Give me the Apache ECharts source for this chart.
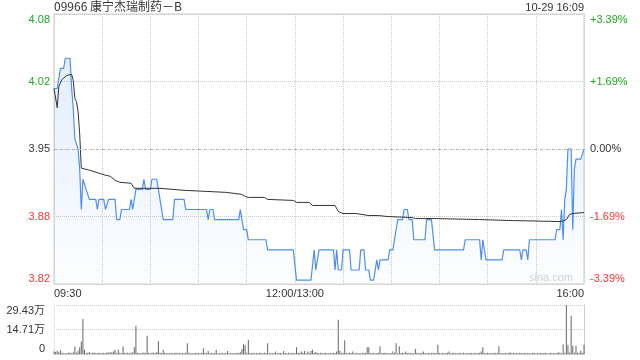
<!DOCTYPE html>
<html><head><meta charset="utf-8">
<script src="https://cdn.jsdelivr.net/npm/echarts@6/dist/echarts.min.js"></script>
<style>html,body{margin:0;padding:0;background:#fff}#c{width:640px;height:360px}</style>
</head><body><div id="c"></div>
<script>
const chartTitle = '09966 康宁杰瑞制药－B';
const dateText = '10-29 16:09';
const prevClose = 3.95;
const rangePct = 0.0339;
const leftTickLabels = ['3.82', '3.88', '3.95', '4.02', '4.08'];
const rightTickLabels = ['-3.39%', '-1.69%', '0.00%', '+1.69%', '+3.39%'];
const timeLabels = {0: '09:30', 150: '12:00/13:00', 330: '16:00'};
const volTickLabels = ['0', '14.71万', '29.43万'];
const volMax = 29.43;

// minute index (0 = 09:30, 150 = 12:00/13:00, 330 = 16:00) and price
const priceMinutes = [0,2,4,6,7,10,11,12,13,14,15,16,17,18,19,20,21,22,26,27,28,31,32,33,34,38,39,41,42,47,48,49,51,55,56,57,60,61,64,65,66,68,74,75,81,82,95,96,97,99,100,115,116,117,118,120,121,132,133,149,151,160,162,163,165,174,175,176,177,179,180,184,185,190,191,193,194,196,197,199,201,202,203,208,209,211,212,213,214,217,218,220,221,223,224,231,232,235,237,255,256,265,266,267,268,269,279,280,290,291,292,294,295,296,312,313,315,316,317,318,319,320,322,323,324,325,328,330];
const priceValues = [4.01,4.01,4.03,4.03,4.04,4.04,4.01,3.99,3.96,3.96,3.95,3.93,3.89,3.92,3.92,3.91,3.91,3.90,3.90,3.89,3.90,3.90,3.89,3.89,3.90,3.90,3.88,3.88,3.89,3.89,3.90,3.89,3.91,3.91,3.92,3.91,3.91,3.92,3.92,3.91,3.91,3.88,3.88,3.90,3.90,3.89,3.89,3.88,3.89,3.89,3.88,3.88,3.89,3.89,3.87,3.87,3.86,3.86,3.85,3.85,3.82,3.82,3.85,3.83,3.85,3.85,3.83,3.85,3.83,3.83,3.85,3.85,3.83,3.83,3.85,3.85,3.83,3.83,3.82,3.82,3.84,3.83,3.84,3.84,3.85,3.85,3.86,3.86,3.88,3.88,3.89,3.89,3.88,3.88,3.86,3.86,3.88,3.88,3.85,3.85,3.86,3.86,3.84,3.86,3.86,3.84,3.84,3.85,3.85,3.84,3.85,3.85,3.84,3.86,3.86,3.87,3.87,3.89,3.86,3.90,3.91,3.95,3.95,3.87,3.93,3.94,3.94,3.95];

const avgMinutes = [0,2,3,5,8,11,12,13,14,15,16,17,22,28,32,35,38,41,48,50,66,81,82,94,95,107,108,117,119,121,131,133,149,151,159,161,175,177,180,188,196,202,203,208,209,223,225,238,239,265,266,286,287,316,319,321,323,330];
const avgValues = [4.010,3.991,4.012,4.019,4.023,4.024,4.018,4.000,3.997,3.987,3.965,3.931,3.929,3.926,3.924,3.923,3.919,3.917,3.916,3.911,3.911,3.909,3.908,3.908,3.907,3.907,3.906,3.905,3.903,3.902,3.902,3.900,3.899,3.897,3.897,3.894,3.894,3.888,3.886,3.886,3.884,3.884,3.883,3.883,3.882,3.882,3.881,3.881,3.880,3.880,3.879,3.879,3.878,3.878,3.880,3.885,3.886,3.887];

// volume per minute (万)
const volumes = [
1.5,1.2,2.0,1.0,2.2,0.8,0.5,0.6,0.4,0.7,0.9,0.5,1.0,4.5,0.8,2.0,4.0,7.5,21.0,2.5,0.6,0.8,1.2,0.5,0.7,0.9,0.4,0.6,0.8,0.5,
0.6,0.8,0.5,1.0,0.7,1.2,0.9,1.5,2.5,0.6,2.5,0.8,0.5,4.5,0.7,0.6,0.9,0.5,0.8,1.0,4.0,17.0,0.8,0.6,0.5,0.7,0.9,0.6,11.0,0.8,
0.5,0.7,0.9,0.6,1.2,7.8,0.8,0.6,2.5,0.7,0.5,0.6,0.4,0.8,0.5,0.6,0.9,0.5,0.7,0.4,0.6,0.5,0.8,6.5,0.7,0.5,0.6,0.4,0.7,0.5,
0.6,0.5,0.8,3.5,0.7,0.6,1.8,0.5,0.7,0.4,0.6,2.5,0.5,0.6,0.4,0.7,0.5,0.6,1.8,0.5,0.7,0.4,0.6,0.5,0.8,0.6,1.0,3.0,5.9,5.3,
0.8,8.4,0.6,0.5,0.7,0.4,0.6,0.5,0.8,0.6,0.5,0.7,0.6,6.5,0.5,0.7,0.4,0.6,1.5,0.5,0.7,0.6,0.4,1.8,0.6,0.5,0.7,0.4,0.6,0.8,
0.5,4.0,0.8,0.6,1.5,0.7,1.8,0.5,1.5,0.6,1.8,2.5,0.7,1.2,0.6,0.5,0.8,0.6,0.5,0.7,0.6,0.4,0.8,0.5,0.7,0.6,1.5,20.6,2.0,0.6,
0.7,8.2,0.6,0.5,0.8,0.6,1.5,0.5,0.7,0.4,0.6,0.5,0.8,0.6,0.7,4.0,4.0,0.6,0.5,0.7,0.4,0.6,0.8,4.7,0.5,0.6,0.7,0.4,0.6,0.5,
0.6,1.5,0.7,6.5,0.5,4.7,0.6,0.8,0.5,1.5,0.6,0.7,0.4,0.6,0.5,3.0,0.7,0.5,0.6,0.8,1.5,0.6,0.4,0.7,0.5,0.6,0.8,0.5,0.6,5.5,
0.6,0.5,0.7,0.4,0.6,0.8,1.5,0.5,0.6,0.7,0.4,0.5,0.6,0.8,0.5,0.7,0.4,0.6,0.5,0.7,0.6,0.4,0.8,0.5,0.6,0.7,1.5,4.0,0.6,0.5,
0.7,0.4,0.6,0.5,0.8,0.6,0.7,4.7,0.5,0.6,0.4,0.7,0.5,0.6,1.0,0.5,0.7,0.4,0.6,0.5,0.8,0.6,0.4,0.7,0.5,0.6,0.4,0.5,0.7,0.6,
0.5,0.6,0.4,0.7,0.5,0.6,0.8,0.4,0.5,0.7,0.6,0.5,0.4,0.6,1.0,0.7,0.5,5.8,0.8,29.43,5.5,0.9,23.0,5.0,0.8,5.0,0.7,0.6,2.0,0.8,
5.5
];

const FONT = "'Liberation Sans', Arial, 'Noto Sans CJK SC', sans-serif";
const TITLE_FONT = "'Noto Sans CJK SC', 'Noto Sans', sans-serif";
const GREEN = '#1fa81f', RED = '#ff3333', DARK = '#333';
const idx = v => Math.round(v) + 2;
const tickColor = v => v > 0.01 ? GREEN : (v < -0.01 ? RED : DARK);

const chart = echarts.init(document.getElementById('c'), null, {renderer: 'canvas'});
chart.setOption({
  animation: false,
  title: [
    {text: chartTitle, left: 54, top: 0, padding: 0,
     textStyle: {fontSize: 12, fontWeight: 'normal', color: '#333', fontFamily: TITLE_FONT}},
    {text: dateText, right: 56, top: 2, padding: 0,
     textStyle: {fontSize: 11, fontWeight: 'normal', color: '#333', fontFamily: FONT}}
  ],
  graphic: [{type: 'text', right: 67, top: 272, silent: true,
    style: {text: 'sina.com', fill: '#d2d2d2', font: '11px ' + FONT}}],
  grid: [
    {left: 54, right: 56, top: 14, height: 270, show: true, borderColor: '#ccc', borderWidth: 1, backgroundColor: 'transparent'},
    {left: 54, right: 56, top: 305, height: 49}
  ],
  xAxis: [
    {gridIndex: 0, type: 'value', min: 0, max: 330, interval: 30,
     axisLine: {show: false}, axisTick: {show: false},
     splitLine: {show: true, lineStyle: {color: '#c8c8c8', type: 'dotted'}},
     axisLabel: {show: true, margin: 4, fontSize: 11, color: '#333', fontFamily: FONT,
       showMinLabel: true, showMaxLabel: true, alignMinLabel: 'left', alignMaxLabel: 'right',
       formatter: v => timeLabels[v] || ''}},
    {gridIndex: 1, type: 'value', min: 0, max: 330, interval: 330,
     axisLine: {show: true, lineStyle: {color: '#ccc'}}, axisTick: {show: false},
     axisLabel: {show: false},
     splitLine: {show: true, lineStyle: {color: '#cccccc', type: 'dotted'}}}
  ],
  yAxis: [
    {gridIndex: 0, type: 'value', position: 'left', min: -2, max: 2, interval: 1,
     axisLine: {show: false}, axisTick: {show: false},
     splitLine: {show: true, lineStyle: {color: '#c8c8c8', type: 'dotted'}},
     axisLabel: {margin: 4, fontSize: 11, fontFamily: FONT,
       verticalAlignMaxLabel: 'top', verticalAlignMinLabel: 'bottom',
       color: v => tickColor(+v), formatter: v => leftTickLabels[idx(v)]}},
    {gridIndex: 0, type: 'value', position: 'right', min: -2, max: 2, interval: 1,
     axisLine: {show: false}, axisTick: {show: false}, splitLine: {show: false},
     axisLabel: {margin: 6, fontSize: 11, fontFamily: FONT,
       verticalAlignMaxLabel: 'top', verticalAlignMinLabel: 'bottom',
       color: v => tickColor(+v), formatter: v => rightTickLabels[idx(v)]}},
    {gridIndex: 0, type: 'value', show: false,
     min: prevClose * (1 - rangePct), max: prevClose * (1 + rangePct)},
    {gridIndex: 1, type: 'value', position: 'left', min: 0, max: 2, interval: 1,
     axisLine: {show: false}, axisTick: {show: false},
     splitLine: {show: true, lineStyle: {color: '#cccccc', type: 'dotted'}},
     axisLabel: {margin: 9, fontSize: 11, color: '#333', fontFamily: FONT,
       verticalAlignMaxLabel: 'top', verticalAlignMinLabel: 'bottom',
       formatter: v => volTickLabels[Math.round(v)]}},
    {gridIndex: 1, type: 'value', position: 'right', min: 0, max: volMax,
     axisLine: {show: true, lineStyle: {color: '#ccc'}}, axisTick: {show: false},
     axisLabel: {show: false}, splitLine: {show: false}}
  ],
  series: [
    {type: 'line', xAxisIndex: 0, yAxisIndex: 2, symbol: 'none', z: 3,
     data: priceMinutes.map((t, i) => [t, priceValues[i]]),
     lineStyle: {color: '#4d8ff0', width: 1.2},
     areaStyle: {origin: 'start', color: new echarts.graphic.LinearGradient(0, 0, 0, 1, [
       {offset: 0, color: 'rgba(77,143,240,0.22)'},
       {offset: 1, color: 'rgba(77,143,240,0.02)'}])},
     markLine: {silent: true, symbol: 'none', label: {show: false},
       lineStyle: {color: '#b5b5b5', type: [3, 3], width: 1},
       data: [{yAxis: prevClose}]}},
    {type: 'line', xAxisIndex: 0, yAxisIndex: 2, symbol: 'none', z: 4,
     data: avgMinutes.map((t, i) => [t, avgValues[i]]),
     lineStyle: {color: '#333', width: 1}},
    {type: 'bar', xAxisIndex: 1, yAxisIndex: 4, barWidth: 1,
     data: volumes.map((v, i) => [i, v]),
     itemStyle: {color: '#666'}}
  ]
});
</script></body></html>
